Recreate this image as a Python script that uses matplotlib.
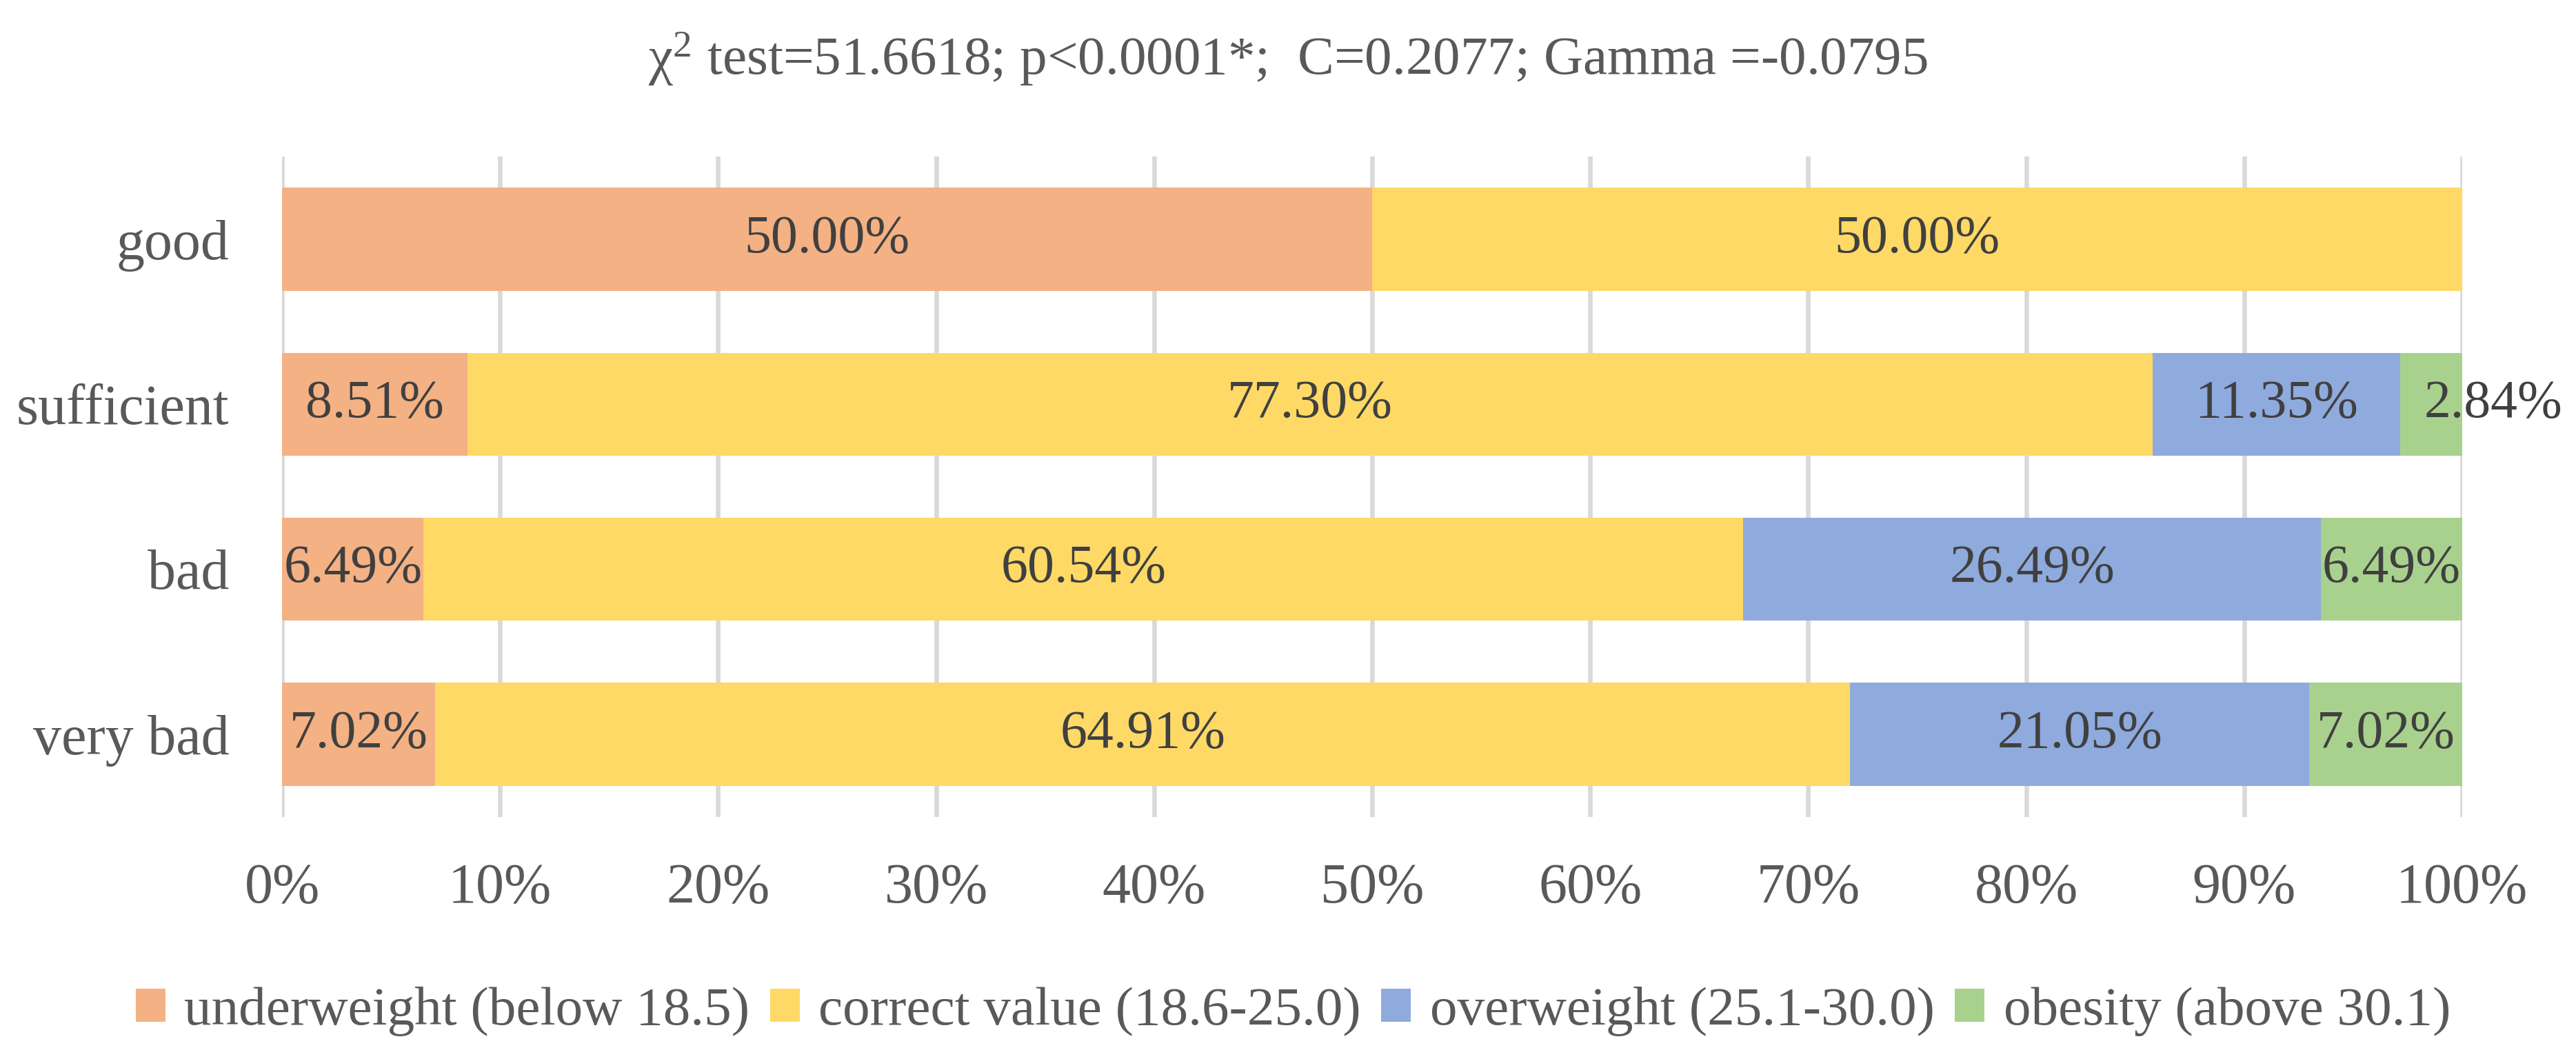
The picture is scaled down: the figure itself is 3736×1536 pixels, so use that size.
import matplotlib
matplotlib.use("Agg")
import matplotlib.pyplot as plt
import numpy as np

categories = ["good", "sufficient", "bad", "very bad"]
series_names = ["underweight (below 18.5)", "correct value (18.6-25.0)",
                "overweight (25.1-30.0)", "obesity (above 30.1)"]
underweight = [50.00, 8.51, 6.49, 7.02]
correct = [50.00, 77.30, 60.54, 64.91]
overweight = [0.0, 11.35, 26.49, 21.05]
obesity = [0.0, 2.84, 6.49, 7.02]
xticks = [0, 10, 20, 30, 40, 50, 60, 70, 80, 90, 100]
title = r"χ$^{2}$ test=51.6618; p<0.0001*;  C=0.2077; Gamma =-0.0795"

colors = ["#F4B183", "#FFD966", "#8FAADC", "#A9D18E"]

plt.rcParams['font.family'] = ['Liberation Serif', 'DejaVu Serif']
plt.rcParams['mathtext.fontset'] = 'custom'
plt.rcParams['mathtext.rm'] = 'Liberation Serif'
plt.rcParams['mathtext.it'] = 'Liberation Serif:italic'

FS = 56
FS_TICK = 59
FS_LEG = 57
fig = plt.figure(figsize=(37.36, 15.36), dpi=100)
ax = fig.add_axes([0.1095, 0.2287, 0.8463, 0.6233])

y = np.arange(len(categories))
left = np.zeros(len(categories))
all_series = [underweight, correct, overweight, obesity]
for vals, name, col in zip(all_series, series_names, colors):
    vals = np.array(vals)
    ax.barh(y, vals, left=left, height=0.625, color=col, label=name, zorder=3)
    for i, v in enumerate(vals):
        if v <= 0:
            continue
        cx = left[i] + v / 2
        if name.startswith("obesity") and categories[i] == "sufficient":
            ax.annotate(f"{v:.2f}%", (cx, y[i]), xytext=(65, 0),
                        textcoords="offset points", ha="center", va="center",
                        fontsize=FS, color="#404040", zorder=5)
        else:
            ax.text(cx, y[i], f"{v:.2f}%", ha="center", va="center",
                    fontsize=FS, color="#404040", zorder=5)
    left = left + vals

ax.set_xlim(0, 100)
ax.set_ylim(len(categories) - 0.5, -0.5)
ax.set_yticks(y)
ax.set_yticklabels(categories)
ax.set_xticks(xticks)
ax.set_xticklabels([f"{t}%" for t in xticks])
ax.tick_params(axis='both', length=0, labelsize=FS_TICK, colors="#595959")
ax.tick_params(axis='y', pad=55)
ax.tick_params(axis='x', pad=48)
ax.grid(axis='x', color="#D9D9D9", linewidth=4.8, zorder=0)
ax.set_axisbelow(True)
for s in ax.spines.values():
    s.set_visible(False)

fig.text(0.5, 0.944, title, ha="center", va="center", fontsize=FS_LEG, color="#595959")

leg = fig.legend(loc="center", bbox_to_anchor=(0.502, 0.045), ncol=4, frameon=False,
                 fontsize=FS_LEG, labelcolor="#595959", handlelength=0.54,
                 handleheight=0.56, handletextpad=0.35, columnspacing=0.37)

fig.savefig("out.png", dpi=100)
